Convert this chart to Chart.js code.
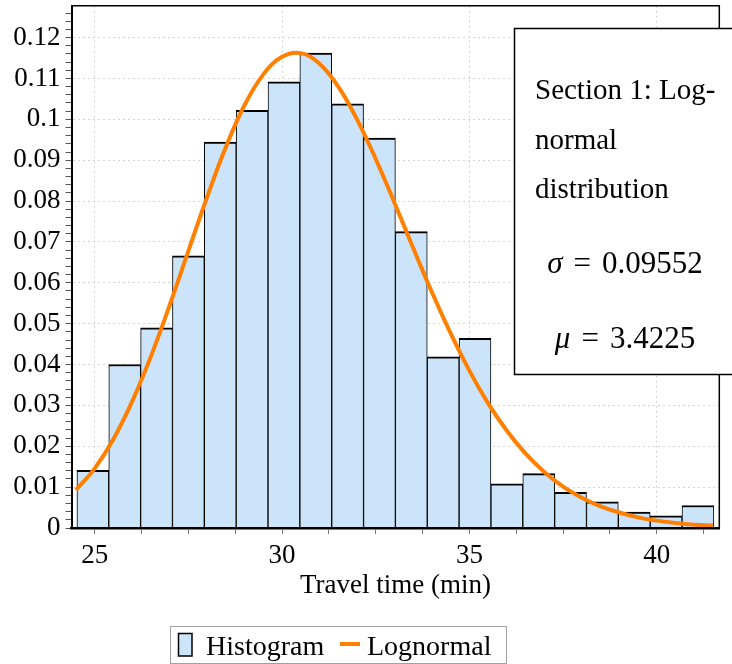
<!DOCTYPE html>
<html>
<head>
<meta charset="utf-8">
<title>Travel time histogram</title>
<script src="https://cdn.jsdelivr.net/npm/chart.js@4.4.1/dist/chart.umd.min.js"></script>
<style>
    html, body { margin: 0; padding: 0; background: #fff; }
    canvas { display: block; }
</style>
</head>
<body>
<canvas id="histChart" width="732" height="664"></canvas>
<script>
// Histogram: bin centres (min) and relative frequency of each bin
const binCenters = [24.95, 25.80, 26.65, 27.50, 28.35, 29.20, 30.05, 30.90, 31.75, 32.60,
                    33.45, 34.30, 35.15, 36.00, 36.85, 37.70, 38.55, 39.40, 40.25, 41.10];
const binFreq = [0.0141, 0.0400, 0.0490, 0.0666, 0.0944, 0.1022, 0.1092, 0.1162, 0.1038, 0.0954,
                 0.0725, 0.0419, 0.0464, 0.0108, 0.0133, 0.0087, 0.0064, 0.0039, 0.0030, 0.0055];

// Lognormal fit curve
const curveX = [24.5, 25, 25.5, 26, 26.5, 27, 27.5, 28, 28.5, 29, 29.5, 30, 30.5, 31, 31.5, 32,
                32.5, 33, 33.5, 34, 34.5, 35, 35.5, 36, 36.5, 37, 37.5, 38, 38.5, 39, 39.5, 40,
                40.5, 41, 41.5];
const curveY = [0.0093, 0.0146, 0.0218, 0.0310, 0.0420, 0.0545, 0.0678, 0.0810, 0.0932, 0.1035,
                0.1110, 0.1153, 0.1162, 0.1136, 0.1080, 0.1000, 0.0903, 0.0796, 0.0685, 0.0577,
                0.0476, 0.0385, 0.0305, 0.0238, 0.0182, 0.0137, 0.0101, 0.0074, 0.0053, 0.0038,
                0.0026, 0.0018, 0.0012, 0.0008, 0.0006];

// Axis ticks
const xMajorTicks = [25, 30, 35, 40];
const xTickLabels = ['25', '30', '35', '40'];
const yMajorTicks = [0, 0.01, 0.02, 0.03, 0.04, 0.05, 0.06, 0.07, 0.08, 0.09, 0.1, 0.11, 0.12];
const yTickLabels = ['0', '0.01', '0.02', '0.03', '0.04', '0.05', '0.06', '0.07', '0.08', '0.09', '0.1', '0.11', '0.12'];

// Fit annotation
const fitTitle = ['Section 1: Log-', 'normal', 'distribution'];
const sigmaText = '0.09552';
const muText = '3.4225';

const SERIF = '"Liberation Serif", "DejaVu Serif", serif';
const barFill = '#cce4fa';
const curveColor = '#ff8000';

function majorIndex(list, v) {
    return list.findIndex(m => Math.abs(m - v) < 1e-9);
}

// Frame on top and right of the plot area
const framePlugin = {
    id: 'frame',
    afterDatasetsDraw(chart) {
        const { ctx, chartArea: a } = chart;
        ctx.save();
        ctx.strokeStyle = '#000';
        ctx.lineWidth = 1.5;
        ctx.beginPath();
        ctx.moveTo(a.left, a.top);
        ctx.lineTo(a.right, a.top);
        ctx.lineTo(a.right, a.bottom);
        ctx.stroke();
        ctx.restore();
    }
};

// Text box with the fitted parameters
const fitBoxPlugin = {
    id: 'fitBox',
    afterDraw(chart) {
        const ctx = chart.ctx;
        ctx.save();
        ctx.fillStyle = '#fff';
        ctx.fillRect(514, 28, 240, 346);
        ctx.strokeStyle = '#000';
        ctx.lineWidth = 1.5;
        ctx.strokeRect(514.5, 28.5, 240, 346);

        ctx.fillStyle = '#000';
        ctx.textBaseline = 'alphabetic';
        ctx.textAlign = 'left';
        ctx.font = '29px ' + SERIF;
        fitTitle.forEach((line, i) => ctx.fillText(line, 535, 99 + i * 49.5));

        const mathLine = (sym, value, baseline) => {
            ctx.font = 'italic 31px ' + SERIF;
            const wSym = ctx.measureText(sym).width;
            ctx.font = '31px ' + SERIF;
            const wEq = ctx.measureText('=').width;
            const wVal = ctx.measureText(value).width;
            const gap = 11;
            const total = wSym + gap + wEq + gap + wVal;
            let x = 625 - total / 2;
            ctx.font = 'italic 31px ' + SERIF;
            ctx.fillText(sym, x, baseline);
            x += wSym + gap;
            ctx.font = '31px ' + SERIF;
            ctx.fillText('=', x, baseline);
            x += wEq + gap;
            ctx.fillText(value, x, baseline);
        };
        mathLine('σ', sigmaText, 273);
        mathLine('μ', muText, 348);
        ctx.restore();
    }
};

// Boxed legend under the axis title
const legendPlugin = {
    id: 'boxLegend',
    afterDraw(chart) {
        const ctx = chart.ctx;
        const bars = chart.data.datasets[1];
        const line = chart.data.datasets[0];
        ctx.save();
        ctx.strokeStyle = '#a0a0a0';
        ctx.lineWidth = 1;
        ctx.strokeRect(170.5, 626.5, 336, 37);

        ctx.fillStyle = bars.backgroundColor;
        ctx.fillRect(178, 633, 14, 23);
        ctx.strokeStyle = '#000';
        ctx.lineWidth = 1.5;
        ctx.strokeRect(178.5, 633.5, 13.5, 22.5);

        ctx.font = '28px ' + SERIF;
        ctx.fillStyle = '#000';
        ctx.textBaseline = 'alphabetic';
        ctx.fillText(bars.label, 206, 655);

        ctx.strokeStyle = line.borderColor;
        ctx.lineWidth = 4;
        ctx.beginPath();
        ctx.moveTo(340, 644);
        ctx.lineTo(360, 644);
        ctx.stroke();
        ctx.fillText(line.label, 367, 655);
        ctx.restore();
    }
};

const ctx = document.getElementById('histChart').getContext('2d');
new Chart(ctx, {
    type: 'bar',
    data: {
        datasets: [
            {
                type: 'line',
                label: 'Lognormal',
                data: curveX.map((x, i) => ({ x: x, y: curveY[i] })),
                borderColor: curveColor,
                borderWidth: 4,
                pointRadius: 0,
                tension: 0.4,
                fill: false,
                order: 0
            },
            {
                type: 'bar',
                label: 'Histogram',
                data: binCenters.map((x, i) => ({ x: x, y: binFreq[i] })),
                backgroundColor: barFill,
                borderColor: '#000',
                borderWidth: { top: 2, left: 1, right: 1, bottom: 0 },
                borderSkipped: false,
                barPercentage: 1,
                categoryPercentage: 1,
                order: 1
            }
        ]
    },
    options: {
        responsive: false,
        animation: false,
        layout: { padding: { left: 0, right: 12.7, top: 5.7, bottom: 62 } },
        plugins: {
            legend: { display: false },
            tooltip: { enabled: false }
        },
        scales: {
            x: {
                type: 'linear',
                min: 24.38,
                max: 41.67,
                offset: false,
                afterBuildTicks: (scale) => {
                    const ticks = [];
                    for (let i = 0; i <= 13; i++) {
                        const v = 25 + i * 1.25;
                        if (v <= scale.max) ticks.push({ value: v });
                    }
                    scale.ticks = ticks;
                },
                afterFit: (scale) => {
                    scale.height = 74;
                    scale.paddingLeft = 0;
                    scale.paddingRight = 0;
                },
                ticks: {
                    autoSkip: false,
                    maxRotation: 0,
                    padding: 6,
                    color: '#000',
                    font: { family: SERIF, size: 27 },
                    callback: (value) => {
                        const i = majorIndex(xMajorTicks, value);
                        return i >= 0 ? xTickLabels[i] : '';
                    }
                },
                grid: {
                    offset: false,
                    color: (c) => (c.tick && majorIndex(xMajorTicks, c.tick.value) >= 0) ? '#d4d4d4' : 'rgba(0,0,0,0)',
                    lineWidth: 1,
                    tickColor: '#777',
                    tickLength: 6
                },
                border: { color: '#000', width: 2.5, dash: [2, 3], z: 1 },
                title: {
                    display: true,
                    text: 'Travel time (min)',
                    color: '#000',
                    font: { family: SERIF, size: 27 },
                    padding: { top: 0, bottom: 0 }
                }
            },
            y: {
                min: 0,
                max: 0.1278,
                afterBuildTicks: (scale) => {
                    const ticks = [];
                    for (let i = 0; i <= 63; i++) ticks.push({ value: Math.round(i * 2) / 1000 });
                    scale.ticks = ticks;
                },
                afterFit: (scale) => {
                    scale.width = 71.5;
                    scale.paddingTop = 0;
                    scale.paddingBottom = 0;
                },
                ticks: {
                    autoSkip: false,
                    padding: 5,
                    color: '#000',
                    font: { family: SERIF, size: 27 },
                    callback: (value) => {
                        const i = majorIndex(yMajorTicks, value);
                        return i >= 0 ? yTickLabels[i] : '';
                    }
                },
                grid: {
                    color: (c) => (c.tick && majorIndex(yMajorTicks, c.tick.value) >= 0) ? '#d4d4d4' : 'rgba(0,0,0,0)',
                    lineWidth: 1,
                    tickColor: '#555',
                    tickLength: 6
                },
                border: { color: '#000', width: 2, dash: [2, 3], z: 1 }
            }
        }
    },
    plugins: [framePlugin, fitBoxPlugin, legendPlugin]
});
</script>
</body>
</html>
